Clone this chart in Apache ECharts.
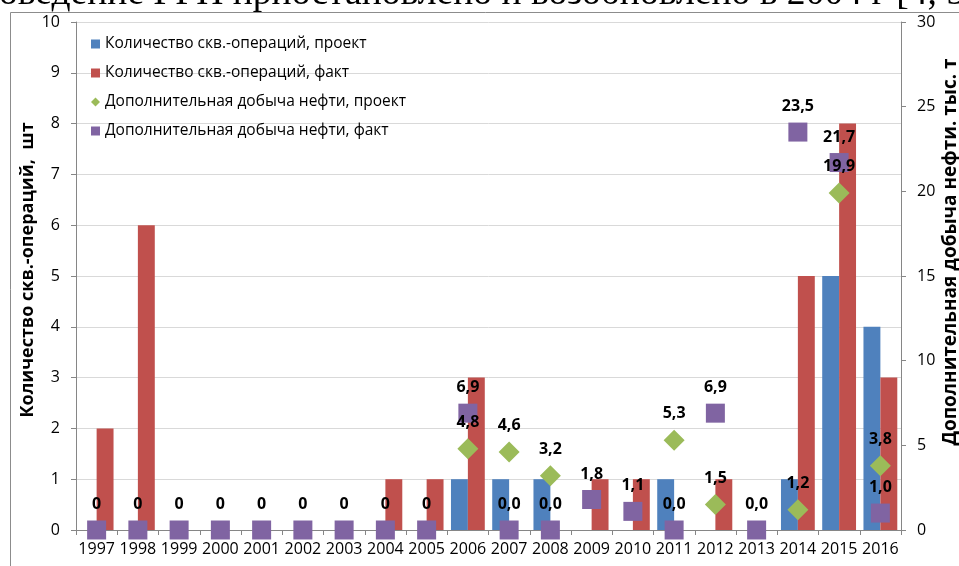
<!DOCTYPE html>
<html>
<head>
<meta charset="utf-8">
<script src="https://cdn.jsdelivr.net/npm/echarts@6/dist/echarts.min.js"></script>
<style>
  html, body { margin: 0; padding: 0; background: #ffffff; }
  #chart { width: 959px; height: 566px; }
</style>
</head>
<body>
<div id="chart"></div>
<script>
// Годы
const years = ['1997', '1998', '1999', '2000', '2001', '2002', '2003', '2004', '2005', '2006',
               '2007', '2008', '2009', '2010', '2011', '2012', '2013', '2014', '2015', '2016'];

// Количество скважино-операций, шт
const wellOpsPlan = [0, 0, 0, 0, 0, 0, 0, 0, 0, 1, 1, 1, 0, 0, 1, 0, 0, 1, 5, 4];
const wellOpsFact = [2, 6, 0, 0, 0, 0, 0, 1, 1, 3, 0, 0, 1, 1, 0, 1, 0, 5, 8, 3];

// Дополнительная добыча нефти, тыс. т
const extraOilPlan = [null, null, null, null, null, null, null, null, null, 4.8,
                      4.6, 3.2, null, null, 5.3, 1.5, null, 1.2, 19.9, 3.8];
const extraOilFact = [0, 0, 0, 0, 0, 0, 0, 0, 0, 6.9,
                      0.0, 0.0, 1.8, 1.1, 0.0, 6.9, 0.0, 23.5, 21.7, 1.0];
// число знаков после запятой в подписях факта
const extraOilFactDecimals = [0, 0, 0, 0, 0, 0, 0, 0, 0, 1,
                              1, 1, 1, 1, 1, 1, 1, 1, 1, 1];

// Шкалы осей
const leftAxisMax = 10, leftAxisStep = 1;
const rightAxisMax = 30, rightAxisStep = 5;

const seriesNames = [
  'Количество скв.-операций, проект',
  'Количество скв.-операций, факт',
  'Дополнительная добыча нефти, проект',
  'Дополнительная добыча нефти, факт'
];

const FONT = '"Open Sans", "DejaVu Sans", sans-serif';
const fmt = (v, d) => v.toFixed(d).replace('.', ',');

const chart = echarts.init(document.getElementById('chart'), null, { renderer: 'canvas' });

const labelStyle = {
  show: true,
  position: 'top',
  color: '#000',
  fontFamily: FONT,
  fontWeight: 'bold',
  fontSize: 16
};

chart.setOption({
  animation: false,
  backgroundColor: '#ffffff',
  textStyle: { fontFamily: FONT },
  grid: { left: 76, right: 58, top: 22, bottom: 36, containLabel: false },
  legend: {
    orient: 'vertical',
    left: 86,
    top: 31,
    itemGap: 13,
    itemWidth: 9,
    itemHeight: 9,
    textStyle: { fontFamily: FONT, fontSize: 15.5, color: '#000' },
    data: [
      { name: seriesNames[0], icon: 'rect' },
      { name: seriesNames[1], icon: 'rect' },
      { name: seriesNames[2], icon: 'diamond' },
      { name: seriesNames[3], icon: 'rect' }
    ]
  },
  xAxis: {
    type: 'category',
    data: years,
    axisLine: { lineStyle: { color: '#868686' } },
    axisTick: { show: true, length: 5, lineStyle: { color: '#868686' } },
    axisLabel: { color: '#000', fontFamily: FONT, fontSize: 16, margin: 11, interval: 0 }
  },
  yAxis: [
    {
      type: 'value',
      min: 0, max: leftAxisMax, interval: leftAxisStep,
      position: 'left',
      axisLine: { show: true, lineStyle: { color: '#868686' } },
      axisTick: { show: true, length: 5, lineStyle: { color: '#868686' } },
      axisLabel: { color: '#000', fontFamily: FONT, fontSize: 16, margin: 16 },
      splitLine: { show: true, lineStyle: { color: '#d9d9d9' } }
    },
    {
      type: 'value',
      min: 0, max: rightAxisMax, interval: rightAxisStep,
      position: 'right',
      axisLine: { show: true, lineStyle: { color: '#868686' } },
      axisTick: { show: true, length: 5, lineStyle: { color: '#868686' } },
      axisLabel: { color: '#000', fontFamily: FONT, fontSize: 16, margin: 16 },
      splitLine: { show: false }
    }
  ],
  series: [
    {
      name: seriesNames[0],
      type: 'bar',
      yAxisIndex: 0,
      data: wellOpsPlan,
      barGap: '0%',
      barCategoryGap: '18%',
      itemStyle: { color: '#4f81bd' }
    },
    {
      name: seriesNames[1],
      type: 'bar',
      yAxisIndex: 0,
      data: wellOpsFact,
      barGap: '0%',
      barCategoryGap: '18%',
      itemStyle: { color: '#c0504d' }
    },
    {
      name: seriesNames[2],
      type: 'scatter',
      yAxisIndex: 1,
      data: extraOilPlan.map(v => (v === null ? '-' : v)),
      symbol: 'diamond',
      symbolSize: 21,
      itemStyle: { color: '#9bbb59', opacity: 1 },
      label: Object.assign({}, labelStyle, {
        distance: 8,
        formatter: p => fmt(p.value, 1)
      }),
      z: 3
    },
    {
      name: seriesNames[3],
      type: 'scatter',
      yAxisIndex: 1,
      data: extraOilFact,
      symbol: 'rect',
      symbolSize: 19,
      itemStyle: { color: '#8064a2', opacity: 1 },
      label: Object.assign({}, labelStyle, {
        distance: 8,
        formatter: p => fmt(p.value, extraOilFactDecimals[p.dataIndex])
      }),
      z: 2
    }
  ],
  graphic: [
    {
      type: 'rect',
      silent: true,
      shape: { x: 10.5, y: 12.5, width: 1000, height: 600 },
      style: { fill: 'none', stroke: '#8c8c8c', lineWidth: 1 },
      z: -1
    },
    {
      type: 'text',
      silent: true,
      x: -47,
      y: 13,
      style: {
        text: 'Проведение ГРП приостановлено и возобновлено в 2004 г [4, 5]',
        font: '37.6px "Liberation Serif", "DejaVu Serif", serif',
        fill: '#000',
        align: 'left',
        verticalAlign: 'bottom'
      }
    },
    {
      type: 'text',
      silent: true,
      x: 28,
      y: 270,
      rotation: Math.PI / 2,
      style: {
        text: 'Количество скв.-операций,  шт',
        font: 'bold 18px "Open Sans", sans-serif',
        fill: '#000',
        align: 'center',
        verticalAlign: 'middle'
      }
    },
    {
      type: 'text',
      silent: true,
      x: 951,
      y: 252,
      rotation: Math.PI / 2,
      style: {
        text: 'Дополнительная добыча нефти. тыс. т',
        font: 'bold 19px "Open Sans", sans-serif',
        fill: '#000',
        align: 'center',
        verticalAlign: 'middle'
      }
    }
  ]
});
</script>
</body>
</html>
